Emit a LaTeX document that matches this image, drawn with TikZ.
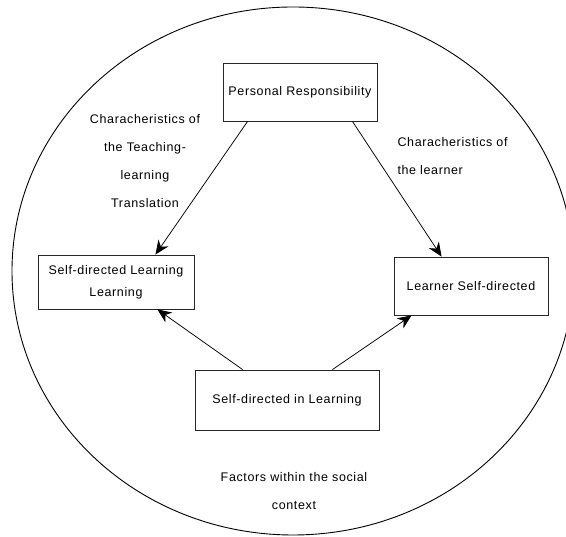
\documentclass[tikz,border=0pt]{standalone}
\usepackage{fontspec}
\setmainfont{Liberation Sans}[LetterSpace=5]
\usepackage{tikz}
\usetikzlibrary{arrows.meta}
\tikzset{every node/.style={font=\fontsize{12.5}{22}\selectfont},
  box/.style={draw=black!85, line width=0.9pt, align=center, inner sep=0pt},
  lbl/.style={align=center, font=\fontsize{12.5}{28}\selectfont},
  link/.style={line width=0.75pt, -{Stealth[length=14pt,width=12pt,inset=4.5pt]}}}

\begin{document}
\begin{tikzpicture}[x=1pt, y=1pt]
  \useasboundingbox (0,0) rectangle (566,537);
  \clip (0,0) rectangle (566,537);
  % social context
  \draw[line width=0.9pt] (293,266) ellipse [x radius=281, y radius=264];
  \node[box, minimum width=154pt, minimum height=58pt] (pr) at (300,445) {Personal Responsibility};
  \node[box, minimum width=156pt, minimum height=54pt] (sdl) at (116,255) {Self-directed Learning\\Learning};
  \node[box, minimum width=154pt, minimum height=58pt] (lsd) at (471,251) {Learner Self-directed};
  \node[box, minimum width=184pt, minimum height=60pt] (sdil) at (287,137) {Self-directed in Learning};
  \node[lbl] (teachlbl) at (145,376) {Characheristics of\\the Teaching-\\learning\\Translation};
  \node[lbl, anchor=west, align=left] (learnerlbl) at (394,380.5) {Characheristics of\\the learner};
  \node[lbl] (sociallbl) at (294,45.5) {Factors within the social\\context};
  \draw[link] ([xshift=25pt]pr.south west) -- ([xshift=-39pt]sdl.north east);
  \draw[link] ([xshift=-25pt]pr.south east) -- ([xshift=48pt]lsd.north west);
  \draw[link] ([xshift=48pt]sdil.north west) -- ([xshift=-37pt]sdl.south east);
  \draw[link] ([xshift=-47pt]sdil.north east) -- ([xshift=18pt]lsd.south west);
\end{tikzpicture}
\end{document}
